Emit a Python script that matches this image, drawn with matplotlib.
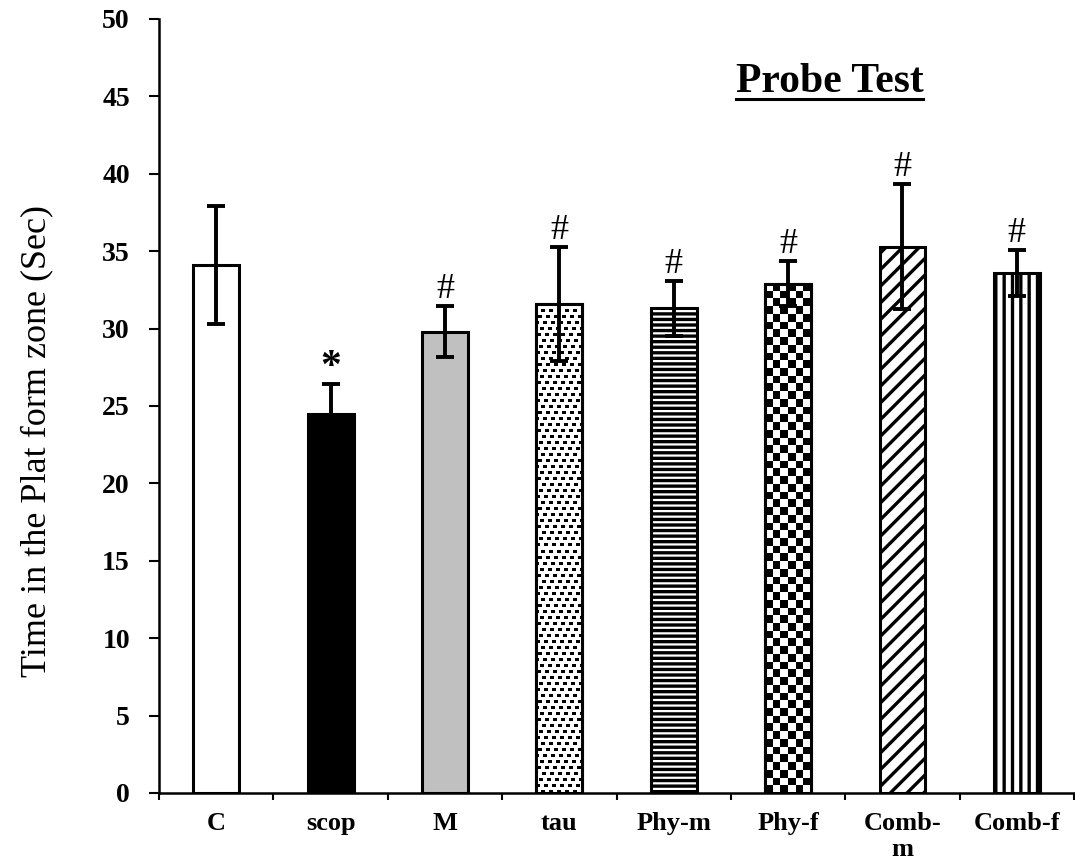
import matplotlib
matplotlib.use("Agg")
import matplotlib.pyplot as plt
import numpy as np

# data
groups = ["C", "scop", "M", "tau", "Phy-m", "Phy-f", "Comb-\nm", "Comb-f"]
means = [34.1, 24.5, 29.8, 31.6, 31.3, 32.9, 35.3, 33.6]
errs = [3.8, 1.9, 1.65, 3.7, 1.75, 1.45, 4.05, 1.5]
marks = ["", "*", "#", "#", "#", "#", "#", "#"]

faces = ["white", "black", "#c0c0c0", "white", "white", "white", "white", "white"]
hatches = [None, None, None, None, "---", None, "//", "||"]

plt.rcParams["font.family"] = ["Liberation Serif", "DejaVu Serif"]
plt.rcParams["hatch.linewidth"] = 2.4

fig = plt.figure(figsize=(10.75, 8.61), dpi=100)
ax = fig.add_axes([0.148, 0.079, 0.851, 0.899])

x = np.arange(len(groups))
w = 0.4
bars = ax.bar(x, means, w, color=faces, edgecolor="black", linewidth=2.2, zorder=2)
for b, h in zip(bars, hatches):
    if h:
        b.set_hatch(h)


def texture(i, pat):
    # fill bar i with a pixel pattern, clipped to the bar
    im = ax.imshow(pat, cmap="gray_r", vmin=0, vmax=1,
                   extent=(x[i] - w / 2, x[i] + w / 2, 0, means[i]),
                   aspect="auto", interpolation="nearest", zorder=2.5)
    im.set_clip_path(bars[i])
    ax.bar(x[i], means[i], w, color="none", edgecolor="black", linewidth=2.2, zorder=3)


# stipple for tau (brick-like dots)
nr, nc = int(means[3] * 15.5), 46
r, c = np.indices((nr, nc))
blk = r // 6
stip = (((c + (blk * 3) % 8) % 8 < 4) & (r % 6 < 3)).astype(float)
texture(3, stip)

# checkerboard for Phy-f
nrow = int(round(means[5] / 0.5))
chk = (np.indices((nrow, 6)).sum(axis=0) % 2).astype(float)
texture(5, chk)

ax.errorbar(x, means, yerr=errs, fmt="none", ecolor="black", elinewidth=2.8,
            capsize=6.5, capthick=2.8, zorder=4)

for xi, m, e, s in zip(x, means, errs, marks):
    if s == "*":
        ax.annotate(s, (xi, m + e), xytext=(0, -2), textcoords="offset points",
                    ha="center", va="bottom", fontsize=30, fontweight="bold")
    elif s:
        ax.annotate(s, (xi, m + e), xytext=(0, 0), textcoords="offset points",
                    ha="center", va="bottom", fontsize=26)

ax.set_xlim(-0.5, len(groups) - 0.5)
ax.set_ylim(0, 50)
ax.set_yticks(np.arange(0, 51, 5))
ax.set_xticks(x)
ax.set_xticklabels(groups, fontsize=19, fontweight="bold", linespacing=1.15)
ax.set_xticks(np.arange(-0.5, len(groups), 1), minor=True)
ax.tick_params(axis="x", which="major", length=0, pad=14)
ax.tick_params(axis="x", which="minor", length=5, width=1.5, direction="out")
ax.tick_params(axis="y", length=7, width=1.5, pad=14, labelsize=20)
for lab in ax.get_yticklabels():
    lab.set_fontweight("bold")

for s in ["top", "right"]:
    ax.spines[s].set_visible(False)
for s in ["left", "bottom"]:
    ax.spines[s].set_linewidth(1.8)

ax.set_ylabel("Time in the Plat form zone (Sec)", fontsize=26)
ax.yaxis.set_label_coords(-0.116, 0.455)

ty = 0.905
t = ax.text(0.733, ty, "Probe Test", transform=ax.transAxes, ha="center",
            va="baseline", fontsize=30, fontweight="bold")
fig.canvas.draw()
bb = t.get_window_extent().transformed(ax.transAxes.inverted())
ax.plot([bb.x0, bb.x1], [ty - 0.009, ty - 0.009], transform=ax.transAxes,
        color="black", linewidth=2.2, clip_on=False)

fig.savefig("out.png", dpi=100)
